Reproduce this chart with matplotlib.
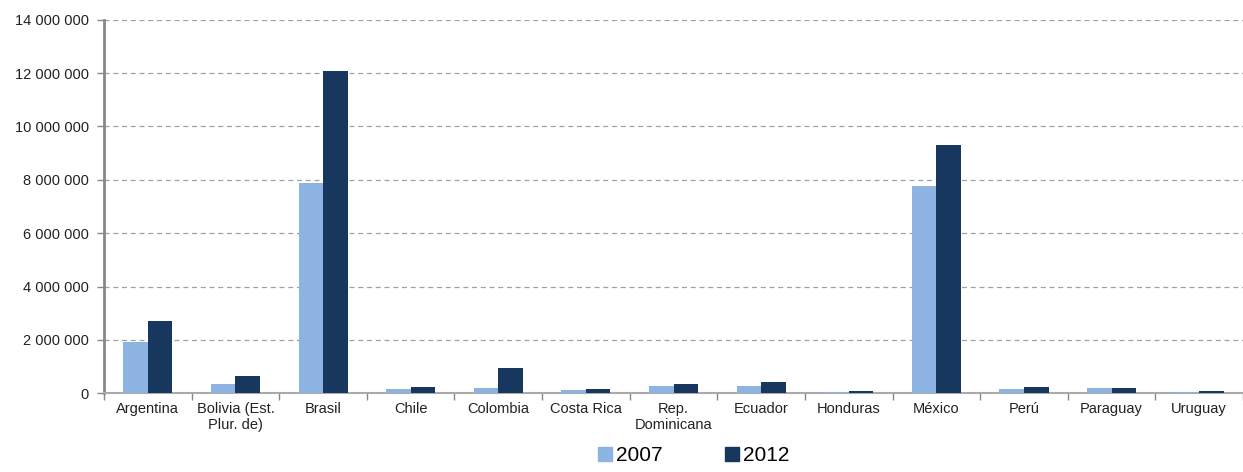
import numpy as np
import matplotlib.pyplot as plt
from matplotlib.ticker import FuncFormatter, FixedLocator
from matplotlib.patches import Patch

plt.rcParams['font.family'] = ['Liberation Sans', 'DejaVu Sans']

paises = ["Argentina", "Bolivia (Est.\nPlur. de)", "Brasil", "Chile", "Colombia",
          "Costa Rica", "Rep.\nDominicana", "Ecuador", "Honduras", "México",
          "Perú", "Paraguay", "Uruguay"]
v2007 = [1930000, 360000, 7890000, 150000, 190000, 120000, 270000,
         270000, 60000, 7770000, 150000, 190000, 50000]
v2012 = [2700000, 640000, 12090000, 240000, 940000, 160000, 360000,
         420000, 100000, 9310000, 220000, 190000, 90000]
anios = ["2007", "2012"]
colores = ["#8DB3E2", "#17375E"]

fig = plt.figure(figsize=(12.43, 4.72), dpi=100)
ax = fig.add_axes([0.0837, 0.167, 0.9163, 0.791])

x = np.arange(len(paises))
w = 0.28
ax.bar(x - w / 2, v2007, w, color=colores[0], zorder=3)
ax.bar(x + w / 2, v2012, w, color=colores[1], zorder=3)

ax.set_xlim(-0.5, len(paises) - 0.5)
ax.set_ylim(0, 14000000)
ax.set_yticks(np.arange(0, 14000001, 2000000))
ax.yaxis.set_major_formatter(FuncFormatter(lambda v, p: f"{int(v):,}".replace(",", " ")))
ax.yaxis.grid(True, linestyle=(0, (4, 3)), color="#A0A0A0", linewidth=0.9, zorder=0)

# ticks sit between the categories, labels are centred under each group
ax.xaxis.set_major_locator(FixedLocator(np.arange(-0.5, len(paises), 1)))
ax.xaxis.set_major_formatter(FuncFormatter(lambda v, p: ""))
ax.xaxis.set_minor_locator(FixedLocator(x))
ax.set_xticklabels(paises, minor=True, fontsize=10.5, color="#222222")
ax.tick_params(axis="x", which="minor", length=0, pad=6)
ax.tick_params(axis="x", which="major", length=5, color="#888888", width=1)
ax.tick_params(axis="y", length=5, color="#888888", width=1, labelsize=10.5,
               labelcolor="#222222", pad=6)

for s in ["top", "right"]:
    ax.spines[s].set_visible(False)
ax.spines["left"].set_color("#888888")
ax.spines["left"].set_linewidth(2)
ax.spines["bottom"].set_color("#AAAAAA")
ax.spines["bottom"].set_linewidth(1.5)

handles = [Patch(color=c) for c in colores]
fig.legend(handles, anios, loc="lower center", ncol=2, frameon=False,
           fontsize=15, bbox_to_anchor=(0.558, -0.025), handlelength=0.65,
           handleheight=0.65, handletextpad=0.2, columnspacing=3.0)

fig.savefig("out.png", dpi=100)
